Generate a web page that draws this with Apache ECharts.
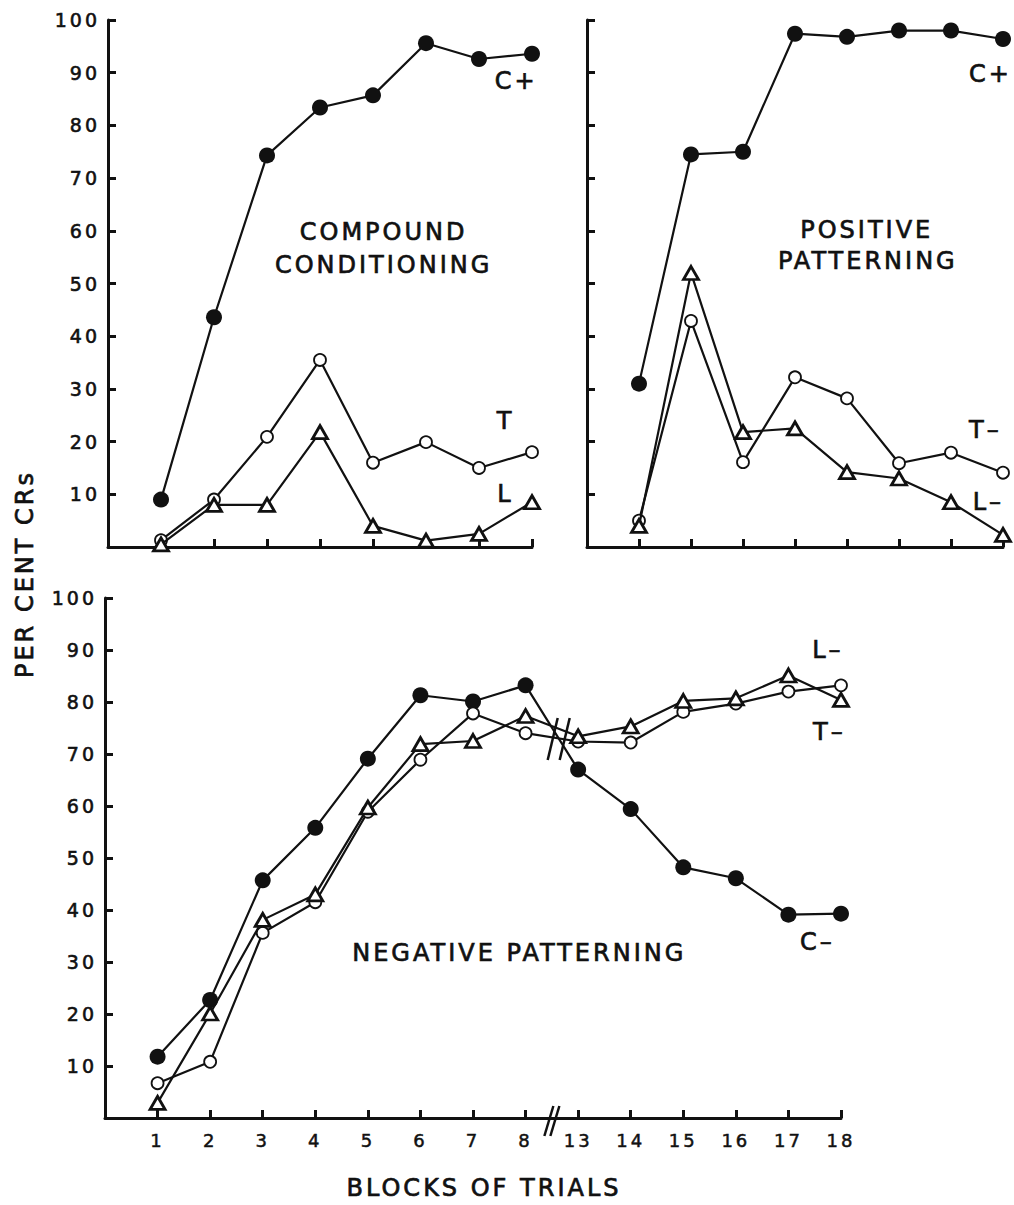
<!DOCTYPE html>
<html>
<head>
<meta charset="utf-8">
<script src="https://cdn.jsdelivr.net/npm/echarts@6/dist/echarts.min.js"></script>
<style>
html, body { margin: 0; padding: 0; background: #fff; }
#main { width: 1014px; height: 1205px; }
#main text { letter-spacing: 3px; }
</style>
</head>
<body>
<div id="main"></div>
<script>
// blocks of trials
const topBlocks = [1, 2, 3, 4, 5, 6, 7, 8]
const bottomBlocks = [1, 2, 3, 4, 5, 6, 7, 8, 13, 14, 15, 16, 17, 18]

// compound conditioning (per cent CRs)
const compoundC = [9, 43.6, 74.3, 83.4, 85.7, 95.6, 92.6, 93.6]
const compoundT = [1.3, 9.0, 20.9, 35.5, 16.0, 19.9, 15.0, 18.0]
const compoundL = [0.5, 8.0, 8.0, 21.8, 4.0, 1.2, 2.5, 8.5]

// positive patterning
const positiveC = [31.0, 74.5, 75.0, 97.4, 96.8, 98.0, 98.0, 96.4]
const positiveT = [5.0, 42.9, 16.1, 32.2, 28.2, 15.9, 17.9, 14.1]
const positiveL = [4.0, 52.0, 21.8, 22.5, 14.2, 13.0, 8.5, 2.3]

// negative patterning
const negativeC = [11.8, 22.7, 45.7, 55.8, 69.1, 81.3, 80.1, 83.2, 67.0, 59.4, 48.2, 46.1, 39.1, 39.3]
const negativeT = [6.7, 10.8, 35.6, 41.5, 58.9, 68.9, 77.8, 74.0, 72.4, 72.2, 78.1, 79.7, 82.0, 83.2]
const negativeL = [2.9, 20.1, 38.1, 43.0, 59.7, 71.9, 72.5, 77.3, 73.4, 75.3, 80.2, 80.7, 85.1, 80.4]

// text inside the panels, in data coordinates of each panel
const panelTexts = [
  {grid: 0, x: 5.2, y: 59.8, text: 'COMPOUND'},
  {grid: 0, x: 5.2, y: 53.6, text: 'CONDITIONING'},
  {grid: 0, x: 7.7, y: 88.5, text: 'C+'},
  {grid: 0, x: 7.5, y: 24.0, text: 'T'},
  {grid: 0, x: 7.5, y: 10.0, text: 'L'},
  {grid: 1, x: 5.38, y: 60.2, text: 'POSITIVE'},
  {grid: 1, x: 5.4, y: 54.2, text: 'PATTERNING'},
  {grid: 1, x: 7.76, y: 89.8, text: 'C+'},
  {grid: 1, x: 7.66, y: 22.2, text: 'T–'},
  {grid: 1, x: 7.72, y: 8.5, text: 'L–'},
  {grid: 2, x: 7.88, y: 31.7, text: 'NEGATIVE PATTERNING'},
  {grid: 2, x: 13.75, y: 90.0, text: 'L–'},
  {grid: 2, x: 13.78, y: 74.3, text: 'T–'},
  {grid: 2, x: 13.55, y: 33.9, text: 'C–'}
]

const ink = '#111'
const font = 'DejaVu Sans'

const chart = echarts.init(document.getElementById('main'), null, {renderer: 'svg'})

const axisLine = {onZero: false, lineStyle: {color: ink, width: 3}}
const axisTick = {inside: true, length: 8, lineStyle: {color: ink, width: 3}}

const makeX = (gridIndex, max, labels) => ({
  gridIndex: gridIndex,
  type: 'value',
  min: 0,
  max: max,
  interval: 1,
  axisLine: axisLine,
  axisTick: axisTick,
  splitLine: {show: false},
  axisLabel: labels ? {
    formatter: v => (v > 0 ? String(labels[v - 1]) : ''),
    color: ink, fontFamily: font, fontSize: 18, margin: 13,
    textBorderColor: ink, textBorderWidth: 0.5
  } : {show: false}
})

const makeY = (gridIndex, showLabels) => ({
  gridIndex: gridIndex,
  type: 'value',
  min: 0,
  max: 100,
  interval: 10,
  axisLine: axisLine,
  axisTick: axisTick,
  splitLine: {show: false},
  axisLabel: showLabels ? {
    formatter: v => (v === 0 ? '' : String(v)),
    color: ink, fontFamily: font, fontSize: 19, margin: 8,
    textBorderColor: ink, textBorderWidth: 0.6
  } : {show: false}
})

const markers = {
  C: {symbol: 'circle', symbolSize: 16, itemStyle: {color: ink, borderWidth: 0}},
  T: {symbol: 'circle', symbolSize: 12, itemStyle: {color: '#fff', borderColor: ink, borderWidth: 1.8}},
  L: {symbol: 'triangle', symbolSize: [15, 13], itemStyle: {color: '#fff', borderColor: ink, borderWidth: 2.8}}
}

const makeSeries = (name, axisIndex, xs, ys, kind, z) => Object.assign({
  name: name,
  type: 'line',
  xAxisIndex: axisIndex,
  yAxisIndex: axisIndex,
  data: ys.map((v, i) => [xs[i], v]),
  lineStyle: {color: ink, width: 2.2},
  showAllSymbol: true,
  z: z,
  animation: false,
  silent: true
}, markers[kind])

const bottomPos = bottomBlocks.map((b, i) => i + 1)

const option = {
  backgroundColor: '#fff',
  animation: false,
  grid: [
    {left: 108, top: 20, width: 424, height: 527, containLabel: false, outerBoundsMode: 'none'},
    {left: 587, top: 20, width: 416, height: 527, containLabel: false, outerBoundsMode: 'none'},
    {left: 105, top: 598, width: 736, height: 520, containLabel: false, outerBoundsMode: 'none'}
  ],
  xAxis: [makeX(0, 8), makeX(1, 8), makeX(2, bottomBlocks.length, bottomBlocks)],
  yAxis: [makeY(0, true), makeY(1, false), makeY(2, true)],
  series: [
    makeSeries('Compound C+', 0, topBlocks, compoundC, 'C', 3),
    makeSeries('Compound T', 0, topBlocks, compoundT, 'T', 4),
    makeSeries('Compound L', 0, topBlocks, compoundL, 'L', 5),
    makeSeries('Positive C+', 1, topBlocks, positiveC, 'C', 3),
    makeSeries('Positive T-', 1, topBlocks, positiveT, 'T', 4),
    makeSeries('Positive L-', 1, topBlocks, positiveL, 'L', 5),
    makeSeries('Negative C-', 2, bottomPos, negativeC, 'C', 3),
    makeSeries('Negative T-', 2, bottomPos, negativeT, 'T', 4),
    makeSeries('Negative L-', 2, bottomPos, negativeL, 'L', 5)
  ]
}
chart.setOption(option)

// texts and break marks placed through the axes
const textStyle = text => ({
  text: text, fill: ink, font: '24px "' + font + '"',
  stroke: ink, lineWidth: 0.7,
  textAlign: 'center', textVerticalAlign: 'middle', align: 'center', verticalAlign: 'middle'
})

const graphics = []
panelTexts.forEach(t => {
  const p = chart.convertToPixel({gridIndex: t.grid}, [t.x, t.y])
  graphics.push({type: 'text', x: p[0], y: p[1], z: 10, silent: true, style: textStyle(t.text)})
})

graphics.push({type: 'text', x: 25, y: 574, rotation: Math.PI / 2, silent: true, style: textStyle('PER CENT CRs')})
graphics.push({type: 'text', x: 484, y: 1188, silent: true, style: textStyle('BLOCKS OF TRIALS')})

// "//" on the axis and across the lines between blocks 8 and 13
const breakMark = (c, gap, dx, dy) => {
  [-gap / 2, gap / 2].forEach(off => {
    graphics.push({
      type: 'line', z: 10, silent: true,
      shape: {x1: c[0] + off - dx, y1: c[1] + dy, x2: c[0] + off + dx, y2: c[1] - dy},
      style: {stroke: ink, lineWidth: 2.5}
    })
  })
}
const axisBreak = chart.convertToPixel({gridIndex: 2}, [8.5, 0])
breakMark([axisBreak[0], axisBreak[1] + 3], 6, 4.5, 15)
const lineBreak = chart.convertToPixel({gridIndex: 2}, [8.63, 72.9])
breakMark(lineBreak, 12, 5, 21)

chart.setOption({graphic: graphics})
</script>
</body>
</html>
